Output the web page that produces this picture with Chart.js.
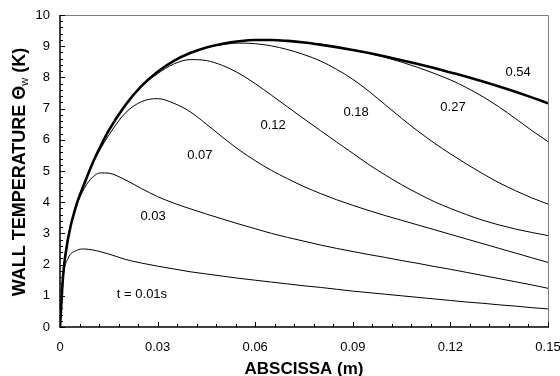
<!DOCTYPE html>
<html>
<head>
<meta charset="utf-8">
<script src="https://cdn.jsdelivr.net/npm/chart.js@4.4.1/dist/chart.umd.min.js"></script>
<style>
  html, body { margin: 0; padding: 0; background: #fff; }
</style>
</head>
<body>
<canvas id="chart" width="560" height="376"></canvas>
<script>
// abscissa grid (m), shared by every curve
const xs = [0, 0.001, 0.0025, 0.005, 0.0075, 0.01, 0.0125, 0.015, 0.02, 0.025,
  0.03, 0.035, 0.04, 0.045, 0.05, 0.055, 0.06, 0.065, 0.07, 0.075,
  0.08, 0.085, 0.09, 0.095, 0.1, 0.105, 0.11, 0.115, 0.12, 0.125,
  0.13, 0.135, 0.14, 0.145, 0.15];

// wall temperature (K), one array per time
const t001 = [0, 1.6, 2.2, 2.45, 2.5, 2.47, 2.41, 2.34, 2.17, 2.05,
  1.95, 1.86, 1.77, 1.7, 1.63, 1.56, 1.5, 1.44, 1.38, 1.32,
  1.27, 1.21, 1.15, 1.1, 1.05, 1.0, 0.95, 0.9, 0.85, 0.8,
  0.76, 0.71, 0.67, 0.62, 0.58];
const t003 = [0, 1.7, 2.85, 3.85, 4.45, 4.8, 4.94, 4.93, 4.72, 4.44,
  4.18, 3.97, 3.79, 3.62, 3.46, 3.3, 3.15, 3.0, 2.87, 2.75,
  2.63, 2.52, 2.42, 2.32, 2.23, 2.13, 2.04, 1.94, 1.85, 1.75,
  1.65, 1.55, 1.45, 1.35, 1.24];
const t007 = [0, 1.7, 2.85, 3.9, 4.6, 5.22, 5.72, 6.15, 6.85, 7.22,
  7.32, 7.17, 6.9, 6.5, 6.08, 5.68, 5.33, 5.02, 4.75, 4.5,
  4.28, 4.08, 3.9, 3.73, 3.57, 3.42, 3.27, 3.12, 2.97, 2.82,
  2.67, 2.52, 2.37, 2.22, 2.07];
const t012 = [0, 1.7, 2.85, 3.9, 4.6, 5.25, 5.8, 6.3, 7.1, 7.7,
  8.12, 8.43, 8.57, 8.54, 8.38, 8.13, 7.8, 7.43, 7.05, 6.67,
  6.3, 5.93, 5.57, 5.2, 4.87, 4.56, 4.28, 4.02, 3.8, 3.6,
  3.42, 3.27, 3.14, 3.03, 2.93];
const t018 = [0, 1.7, 2.85, 3.9, 4.6, 5.25, 5.8, 6.3, 7.1, 7.72,
  8.18, 8.53, 8.78, 8.95, 9.05, 9.1, 9.08, 9.01, 8.89, 8.73,
  8.53, 8.26, 7.94, 7.55, 7.12, 6.69, 6.28, 5.9, 5.55, 5.22,
  4.91, 4.62, 4.37, 4.14, 3.94];
const t027 = [0, 1.7, 2.85, 3.9, 4.6, 5.25, 5.8, 6.3, 7.1, 7.72,
  8.18, 8.53, 8.78, 8.96, 9.08, 9.16, 9.2, 9.2, 9.17, 9.12,
  9.05, 8.97, 8.88, 8.77, 8.64, 8.49, 8.32, 8.13, 7.92, 7.67,
  7.38, 7.05, 6.68, 6.3, 5.94];
const t054 = [0, 1.7, 2.85, 3.9, 4.6, 5.25, 5.8, 6.3, 7.1, 7.72,
  8.18, 8.53, 8.78, 8.96, 9.08, 9.16, 9.2, 9.2, 9.17, 9.12,
  9.05, 8.97, 8.88, 8.78, 8.67, 8.55, 8.43, 8.3, 8.16, 8.02,
  7.87, 7.71, 7.54, 7.36, 7.17];

const seriesNames = ["t = 0.01s", "0.03", "0.07", "0.12", "0.18", "0.27", "0.54"];
const seriesValues = [t001, t003, t007, t012, t018, t027, t054];
// where each curve label sits, in data units
const labelX = [0.0252, 0.0286, 0.043, 0.0655, 0.091, 0.1208, 0.1408];
const labelY = [1.03, 3.56, 5.51, 6.47, 6.89, 7.05, 8.15];

const xTicks = [0, 0.03, 0.06, 0.09, 0.12, 0.15];

const datasets = seriesValues.map((vals, i) => ({
  label: seriesNames[i],
  data: vals.map((v, j) => ({ x: xs[j], y: v })),
  showLine: true,
  borderColor: "#000",
  borderWidth: i === seriesValues.length - 1 ? 2.6 : 1,
  pointRadius: 0,
  cubicInterpolationMode: "monotone",
  fill: false,
}));

const frame = {
  id: "frame",
  afterDatasetsDraw(chart) {
    const { ctx, chartArea: a, scales } = chart;
    const xs_ = scales.x, ys_ = scales.y;
    ctx.save();
    // top and right edges, grey
    ctx.strokeStyle = "#7f7f7f";
    ctx.lineWidth = 1;
    ctx.beginPath();
    ctx.moveTo(a.left, a.top + 0.5);
    ctx.lineTo(a.right + 0.5, a.top + 0.5);
    ctx.lineTo(a.right + 0.5, a.bottom);
    ctx.stroke();
    // axes, black
    ctx.strokeStyle = "#000";
    ctx.lineWidth = 1.5;
    ctx.beginPath();
    ctx.moveTo(a.left, a.top);
    ctx.lineTo(a.left, a.bottom);
    ctx.lineTo(a.right + 1, a.bottom);
    ctx.stroke();
    // inner tick marks
    ctx.lineWidth = 1;
    ctx.beginPath();
    for (let k = 0; k <= 25; k++) {
      const px = Math.round(xs_.getPixelForValue(k * 0.006)) + 0.5;
      const len = k % 5 === 0 ? 5 : 3;
      ctx.moveTo(px, a.bottom);
      ctx.lineTo(px, a.bottom - len);
    }
    for (let k = 0; k <= 50; k++) {
      const py = Math.round(ys_.getPixelForValue(k * 0.2)) + 0.5;
      const len = k % 5 === 0 ? 5 : 3;
      ctx.moveTo(a.left, py);
      ctx.lineTo(a.left + len, py);
    }
    ctx.stroke();
    // curve labels
    ctx.fillStyle = "#000";
    ctx.font = "13px 'Liberation Sans', Arial, sans-serif";
    ctx.textAlign = "center";
    ctx.textBaseline = "middle";
    seriesNames.forEach((name, i) => {
      ctx.fillText(name, xs_.getPixelForValue(labelX[i]), ys_.getPixelForValue(labelY[i]));
    });
    ctx.restore();
  },
  afterDraw(chart) {
    const { ctx, chartArea: a } = chart;
    ctx.save();
    ctx.fillStyle = "#000";
    // x title
    ctx.font = "bold 17px 'Liberation Sans', Arial, sans-serif";
    ctx.textAlign = "center";
    ctx.textBaseline = "alphabetic";
    ctx.fillText("ABSCISSA (m)", (a.left + a.right) / 2, 374);
    // y title with subscript w
    const p1 = "WALL TEMPERATURE Θ", sub = "w", p2 = " (K)";
    const big = "bold 18px 'Liberation Sans', Arial, sans-serif";
    const small = "11px 'Liberation Sans', Arial, sans-serif";
    ctx.font = big;
    const w1 = ctx.measureText(p1).width, w3 = ctx.measureText(p2).width;
    ctx.font = small;
    const w2 = ctx.measureText(sub).width;
    const total = w1 + w2 + w3;
    ctx.translate(25, 172);
    ctx.rotate(-Math.PI / 2);
    ctx.textAlign = "left";
    const x0 = -total / 2;
    ctx.font = big;
    ctx.fillText(p1, x0, 0);
    ctx.font = small;
    ctx.fillText(sub, x0 + w1, 3);
    ctx.font = big;
    ctx.fillText(p2, x0 + w1 + w2, 0);
    ctx.restore();
  },
};

new Chart(document.getElementById("chart"), {
  type: "scatter",
  data: { datasets },
  options: {
    responsive: false,
    animation: false,
    events: [],
    layout: { padding: { top: 15, right: 12, left: 0, bottom: 0 } },
    plugins: { legend: { display: false }, tooltip: { enabled: false } },
    scales: {
      x: {
        type: "linear",
        min: 0,
        max: 0.15,
        grid: { display: false, drawTicks: false },
        border: { display: false },
        afterBuildTicks: (s) => { s.ticks = xTicks.map((v) => ({ value: v })); },
        afterFit: (s) => { s.height = 49; s.paddingLeft = 0; s.paddingRight = 0; },
        ticks: {
          padding: 13,
          color: "#000",
          font: { family: "'Liberation Sans', Arial, sans-serif", size: 13 },
          callback: (v) => (v === 0 ? "0" : v.toFixed(2)),
          maxRotation: 0,
        },
      },
      y: {
        min: 0,
        max: 10,
        grid: { display: false, drawTicks: false },
        border: { display: false },
        afterFit: (s) => { s.width = 60; s.paddingTop = 0; s.paddingBottom = 0; },
        ticks: {
          stepSize: 1,
          padding: 10,
          color: "#000",
          font: { family: "'Liberation Sans', Arial, sans-serif", size: 13 },
        },
      },
    },
  },
  plugins: [frame],
});
</script>
</body>
</html>
